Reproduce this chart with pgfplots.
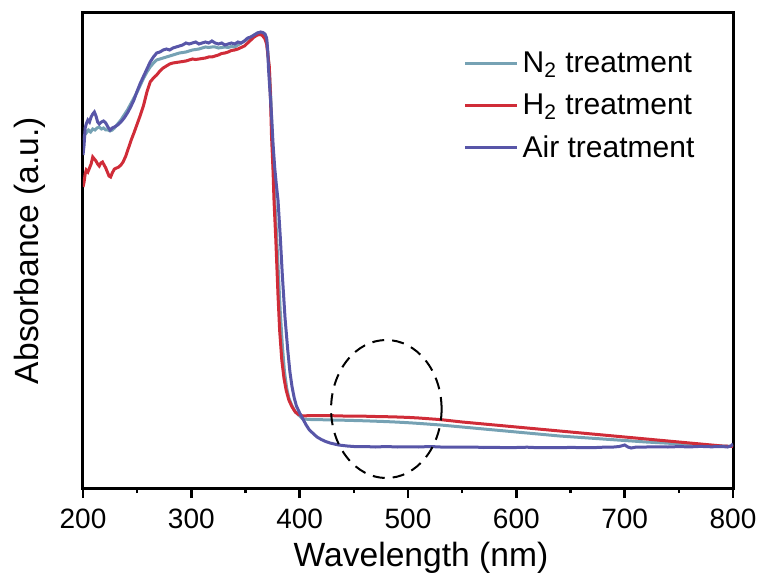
\documentclass[border=0pt]{standalone}
\usepackage{pgfplots}
\pgfplotsset{compat=1.18}
\usepackage{fontspec}
\setmainfont{Liberation Sans}
\definecolor{cN}{RGB}{118,162,180}
\definecolor{cH}{RGB}{208,44,56}
\definecolor{cA}{RGB}{88,86,168}
\begin{document}
\begin{tikzpicture}
\begin{axis}[
  width=325pt, height=237.5pt, scale only axis,
  xmin=200, xmax=800, ymin=2, ymax=477,
  xtick={200,300,...,800}, minor xtick={250,350,...,750},
  ytick=\empty,
  xtick pos=bottom, tick align=outside,
  major tick length=5pt, minor tick length=2.5pt,
  every tick/.style={black, line width=1.2pt},
  axis line style={line width=1.5pt},
  /pgf/number format/assume math mode=true,
  tick label style={font=\fontsize{14}{16}\selectfont},
  xticklabel style={/pgf/number format/1000 sep={}, yshift=-2pt},
  xlabel={Wavelength (nm)}, ylabel={Absorbance (a.u.)},
  label style={font=\fontsize{16.8}{20}\selectfont},
  xlabel style={at={(axis description cs:0.52,-0.148)}, anchor=center},
  ylabel style={at={(axis description cs:-0.0815,0.5)}, anchor=center},
  legend style={draw=none, fill=none, at={(axis description cs:0.585,0.927)}, anchor=north west,
    font=\fontsize{15}{18}\selectfont, row sep=5pt, inner sep=0pt},
  legend cell align=left,
  legend image code/.code={\draw[#1, line width=1.5pt] (0pt,0pt) -- (26pt,0pt);},
  clip=true,
]
\addplot[cN, line width=1.5pt] coordinates {
(200.5,350)(201.5,355)(203,357)(205,360)(207,358)(209,361)(211,360)(213,362)(215,363)(217,361)(219,362)(221,360)(223,360)(225,359)(227,360)(229,362)(232,366)(235,370)(238,375)(241,380)(244,386)(247,392)(250,398)(253,405)(256,412)(259,418)(262,423)(265,427)(268,430)(271,431)(274,432)(277,433)(280,434)(283,435)(286,436)(289,437)(292,437.5)(295,438)(298,439)(301,440)(304,440.5)(307,441)(310,442)(313,443)(316,442.5)(319,443)(322,443)(325,442)(328,442.5)(331,443)(334,442.5)(337,443.5)(340,443)(343,445)(346,447)(349,449)(352,451)(355,453)(358,455)(361,457)(364,457.5)(366,457)(368,455)(369.5,450)(370.7,435)(372,420)(373.5,390)(375,340)(376.5,300)(378,270)(380,225)(382,180)(384,145)(386,118)(388,102)(390,92)(393,84)(396,78)(400,74)(403,71)(410,70.5)(420,70.3)(430,70)(440,69.8)(450,69.5)(460,69.2)(470,68.8)(480,68.4)(490,67.9)(500,67.3)(510,66.6)(520,65.8)(530,65)(540,64)(550,63)(560,62)(570,61)(580,60)(590,59)(600,58)(620,56)(640,54)(660,52.5)(680,51)(700,49.5)(720,48)(740,46.8)(760,45.5)(780,44.5)(800,43.5)
};
\addlegendentry{N\textsubscript{2} treatment}
\addplot[cH, line width=1.5pt] coordinates {
(200,303)(201,308)(202,316)(203,320)(204.5,318)(206,322)(207.5,326)(209,333)(210.5,331)(212,329)(213.5,326)(215,324)(216.5,327)(218,328)(219.5,325)(221,322)(222.5,318)(224,314)(225.5,313)(227,317)(229,321)(231,322)(233,323)(235,325)(237,328)(239.5,334)(242,342)(244.5,350)(247,357)(250,366)(253,375)(256,385)(259,398)(262,408)(265,412)(268,415)(271,419)(274,422)(277,424)(280,426)(283,427)(286,427.5)(289,428)(292,428.5)(295,429)(298,430)(301,431)(304,430.5)(307,431)(310,431.5)(313,432)(316,433)(319,433)(322,434)(325,435)(328,436.5)(331,437)(334,438)(337,439.5)(340,440)(343,441)(346,442.5)(349,444)(352,447)(355,450)(358,453)(361,455)(364,455.5)(366,454)(368,451)(369.5,446)(370.7,435)(372,423)(373,395)(374,355)(375.4,320)(376.3,290)(378,250)(380,195)(381.5,160)(383.5,130)(385.5,112)(387.5,100)(390,90)(393,83)(396,78)(399,75.5)(403,74)(410,74.5)(420,74.5)(430,74.3)(440,74)(450,74)(460,73.8)(470,73.5)(480,73.3)(490,73)(500,72.6)(510,72)(520,71.2)(530,70.4)(540,69.2)(550,68)(560,67)(570,66)(580,65)(590,64)(600,63)(610,62)(620,61)(630,60)(640,59)(650,58)(660,57)(670,56)(680,55)(690,54)(700,53)(710,52)(720,51)(730,50)(740,49)(750,48)(760,47)(770,46)(780,45)(790,44)(800,43.5)
};
\addlegendentry{H\textsubscript{2} treatment}
\addplot[cA, line width=1.5pt] coordinates {
(200,335)(201,345)(202,362)(203,366)(204.5,370)(206,368)(207.5,373)(209,376)(210.5,378)(212,374)(213.5,368)(215,366)(217,368)(219,369)(221,367)(223,363)(225,360)(227,362)(229,363)(232,365)(235,368)(238,372)(241,377)(244,383)(247,390)(250,399)(253,407)(256,414)(259,421)(262,428)(265,433)(268,437)(271,438)(274,440)(277,441)(280,440)(283,442)(286,443)(289,444)(292,445)(295,447)(298,446)(301,447)(304,448)(307,446)(310,447)(313,448)(316,447)(319,449)(322,447)(325,446)(328,447)(331,445)(334,446)(337,447)(340,446)(343,448)(346,447)(349,449)(352,452)(355,453)(358,455)(361,457)(364,458)(366,457.5)(368,456)(369.5,452)(370.5,440)(371.3,420)(372.5,400)(374,375)(375.5,345)(377,322)(378.5,305)(380,290)(382,255)(384,215)(386.5,172)(389,140)(391,118)(393,103)(395,92)(397,84)(400,77)(403,71)(406,65)(409,60)(412,57)(416,53)(420,50.5)(424,48.5)(428,47)(432,46)(436,45)(440,44.5)(444,44)(450,43.5)(460,43.5)(470,43)(480,43.5)(490,43)(500,43.2)(510,43)(520,43.5)(530,43)(540,43)(550,42.8)(560,43)(570,42.5)(580,42.7)(590,42.3)(600,42.5)(610,42.8)(620,42.3)(630,42.5)(640,42.3)(650,42.6)(660,42.4)(670,42.3)(680,42.8)(690,43)(695,43.5)(700,45)(703,43)(706,42)(710,42.8)(720,43)(730,43.2)(740,43)(750,43.4)(760,43.1)(770,43.6)(780,43.2)(790,43.5)(795,43)(798,44)(800,46)
};
\addlegendentry{Air treatment}
\draw[black, line width=1pt, dash pattern=on 6pt off 4pt] (axis cs:480,81) ellipse [x radius=51, y radius=69];
\end{axis}
\pgfresetboundingbox
\path ([shift={(-41.5pt,-45pt)}]current axis.south west) rectangle ([shift={(12.5pt,6.5pt)}]current axis.north east);
\end{tikzpicture}
\end{document}
